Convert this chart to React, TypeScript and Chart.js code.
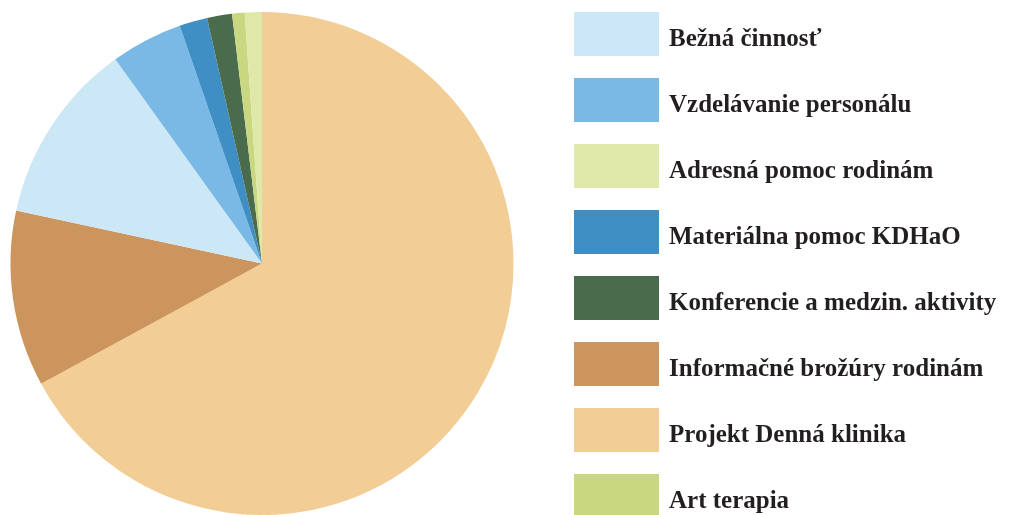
import React, { useEffect, useRef } from "react";
import { Chart, registerables } from "chart.js";

Chart.register(...registerables);

// Slices in drawing order (clockwise from 12 o'clock)
const categories: string[] = [
  "Projekt Denná klinika",
  "Informačné brožúry rodinám",
  "Bežná činnosť",
  "Vzdelávanie personálu",
  "Materiálna pomoc KDHaO",
  "Konferencie a medzin. aktivity",
  "Art terapia",
  "Adresná pomoc rodinám",
];
const values: number[] = [67.0, 11.3, 11.7, 4.6, 1.8, 1.6, 0.8, 1.1];
const colors: string[] = [
  "#f3cd96",
  "#cd955e",
  "#cce7f6",
  "#7ab9e6",
  "#3f8fc4",
  "#4a6c4c",
  "#c8d780",
  "#dfe8a8",
];
// Legend order
const legendOrder: string[] = [
  "Bežná činnosť",
  "Vzdelávanie personálu",
  "Adresná pomoc rodinám",
  "Materiálna pomoc KDHaO",
  "Konferencie a medzin. aktivity",
  "Informačné brožúry rodinám",
  "Projekt Denná klinika",
  "Art terapia",
];

export default function App() {
  const ref = useRef<HTMLCanvasElement | null>(null);
  useEffect(() => {
    document.body.style.margin = "0";
    if (!ref.current) return;
    const chart = new Chart(ref.current, {
      type: "pie",
      data: {
        labels: categories,
        datasets: [
          {
            data: values,
            backgroundColor: colors,
            borderWidth: 0,
          },
        ],
      },
      options: {
        animation: false,
        responsive: false,
        layout: { padding: { left: 10, top: 12, right: 495, bottom: 0 } },
        plugins: { legend: { display: false }, tooltip: { enabled: false } },
      },
    });
    return () => chart.destroy();
  }, []);

  return (
    <div style={{ position: "relative", width: 1009, height: 515, overflow: "hidden" }}>
      <canvas ref={ref} width={1009} height={515} style={{ position: "absolute", left: 0, top: 0 }} />
      {legendOrder.map((lab, i) => {
        const idx = categories.indexOf(lab);
        return (
          <div key={lab} style={{ position: "absolute", left: 574, top: 12 + i * 66, height: 44, display: "flex", alignItems: "center" }}>
            <div style={{ width: 85, height: 44, background: colors[idx] }} />
            <div
              style={{
                marginLeft: 10,
                fontFamily: "'Liberation Serif', serif",
                fontWeight: "bold",
                fontSize: 25,
                color: "#231f20",
                whiteSpace: "nowrap",
                position: "relative",
                top: 4,
              }}
            >
              {lab}
            </div>
          </div>
        );
      })}
    </div>
  );
}
